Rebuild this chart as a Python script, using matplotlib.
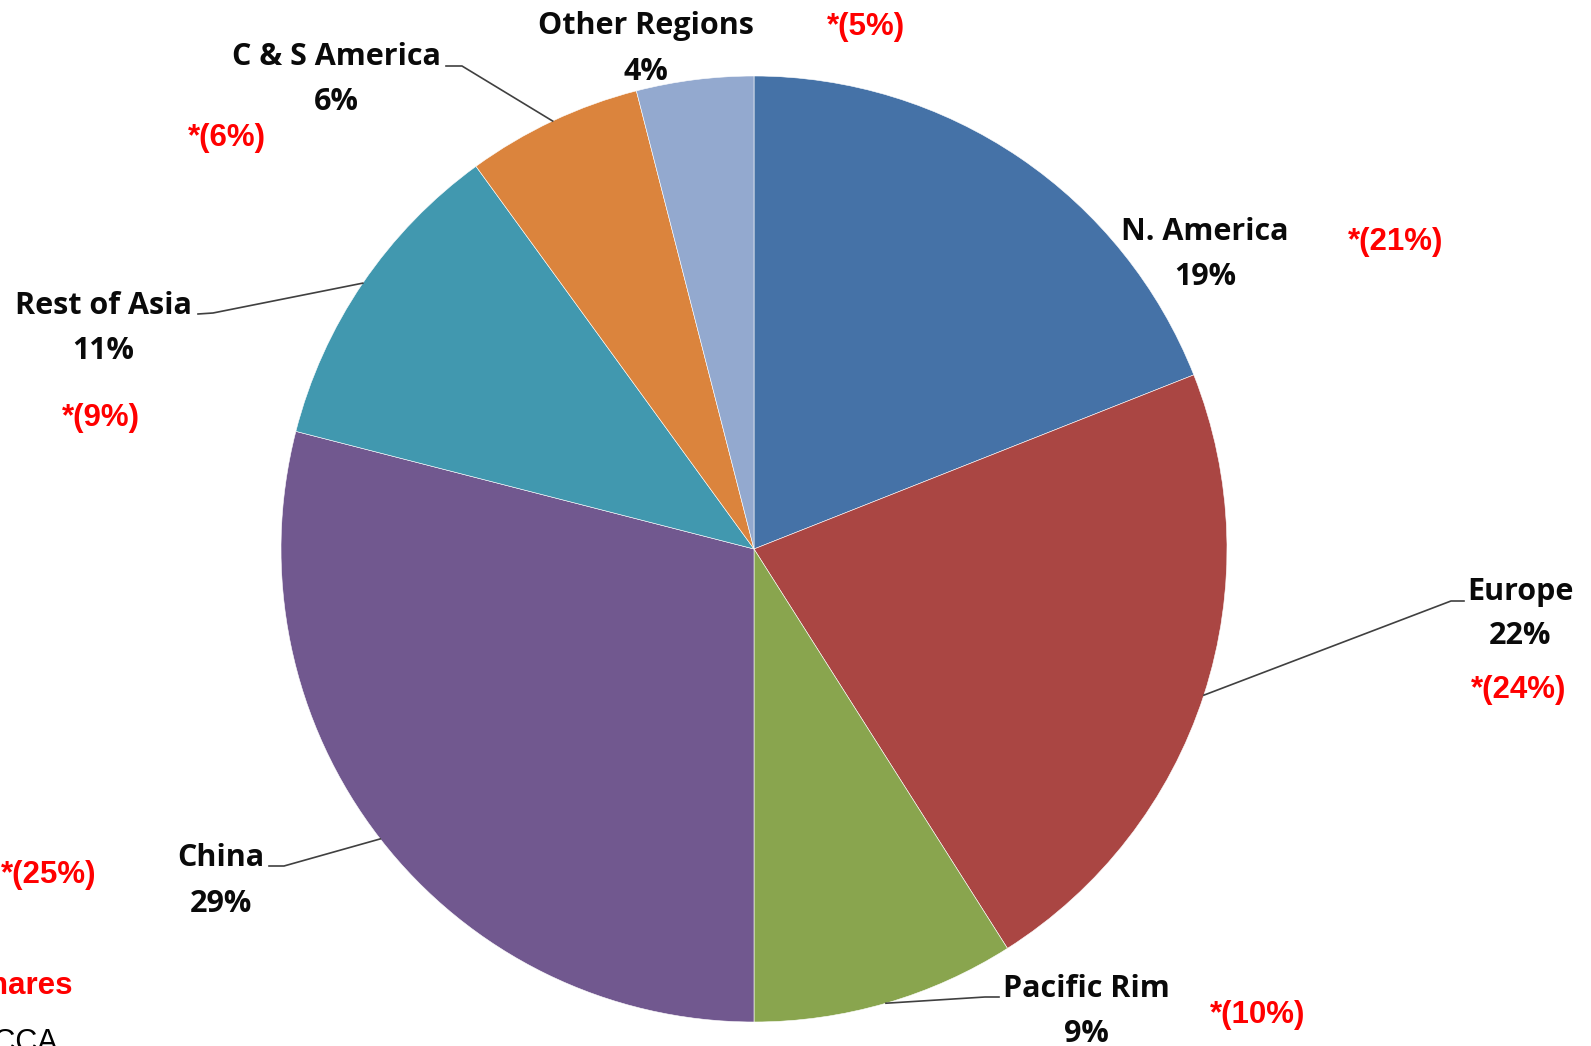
import numpy as np
import matplotlib.pyplot as plt

regions = ["N. America", "Europe", "Pacific Rim", "China", "Rest of Asia",
           "C & S America", "Other Regions"]
shares = [19, 22, 9, 29, 11, 6, 4]
prior_shares = [21, 24, 10, 25, 9, 6, 5]
colors = ["#4572A7", "#AA4643", "#89A54E", "#71588F", "#4198AF",
          "#DB843D", "#93A9CF"]

W, H = 1591, 1046
CX, CY, R = 754, 549, 473
DY = 3  # small downward nudge for all texts


def px(x, y):
    # pixel position (y down) -> data coords (y up)
    return x, H - y - DY


fig = plt.figure(figsize=(W / 100, H / 100), dpi=100)
ax = fig.add_axes([0, 0, 1, 1])

wedges, _ = ax.pie(shares, colors=colors, startangle=90, counterclock=False,
                   center=(CX, H - CY), radius=R,
                   wedgeprops=dict(edgecolor="white", linewidth=0.4))
ax.set_xlim(0, W)
ax.set_ylim(0, H)
ax.set_aspect("equal")
ax.set_axis_off()

label_font = dict(family="Open Sans", fontweight="bold", fontsize=22, color="#0a0a0a")
red_font = dict(family="Liberation Sans", fontweight="bold", fontsize=22.5,
                color="#FF0000")

# (name x, name y, pct y, red x, red y) in pixel coords
layout = {
    "N. America": (1205, 229, 274, 1396, 239),
    "Europe": (1520, 589, 633, 1519, 687),
    "Pacific Rim": (1086, 986, 1031, 1258, 1012),
    "China": (221, 855, 901, 49, 872),
    "Rest of Asia": (103, 303, 348, 101, 415),
    "C & S America": (336, 54, 99, 227, 135),
    "Other Regions": (646, 23, 69, 866, 24),
}

# leader lines: label anchor -> elbow -> wedge edge
leaders = {
    "Europe": [(1464, 601), (1451, 601)],
    "Pacific Rim": [(999, 997), (985, 997)],
    "China": [(269, 866), (284, 866)],
    "Rest of Asia": [(198, 314), (213, 313)],
    "C & S America": [(446, 66), (462, 66)],
}

for w, name, val, prior in zip(wedges, regions, shares, prior_shares):
    nx, ny, py, rx, ry = layout[name]
    ax.text(*px(nx, ny), name, ha="center", va="center", **label_font)
    ax.text(*px(nx, py), f"{val}%", ha="center", va="center", **label_font)
    ax.text(*px(rx, ry), f"*({prior}%)", ha="center", va="center", **red_font)
    if name in leaders:
        mid = np.deg2rad((w.theta1 + w.theta2) / 2)
        ex = CX + R * np.cos(mid)
        ey = CY - R * np.sin(mid)
        pts = leaders[name] + [(ex, ey)]
        xs = [p[0] for p in pts]
        ys = [H - p[1] for p in pts]
        ax.plot(xs, ys, color="#404040", linewidth=1.2)

# footnotes, cut off at the left edge as in the source image
ax.text(*px(73, 983), "* Market Shares", ha="right", va="center", **red_font)
ax.text(*px(58, 1040), "Source: CCA", ha="right", va="center",
        family="Liberation Sans", fontsize=22, color="black")

fig.savefig("out.png", dpi=100)
